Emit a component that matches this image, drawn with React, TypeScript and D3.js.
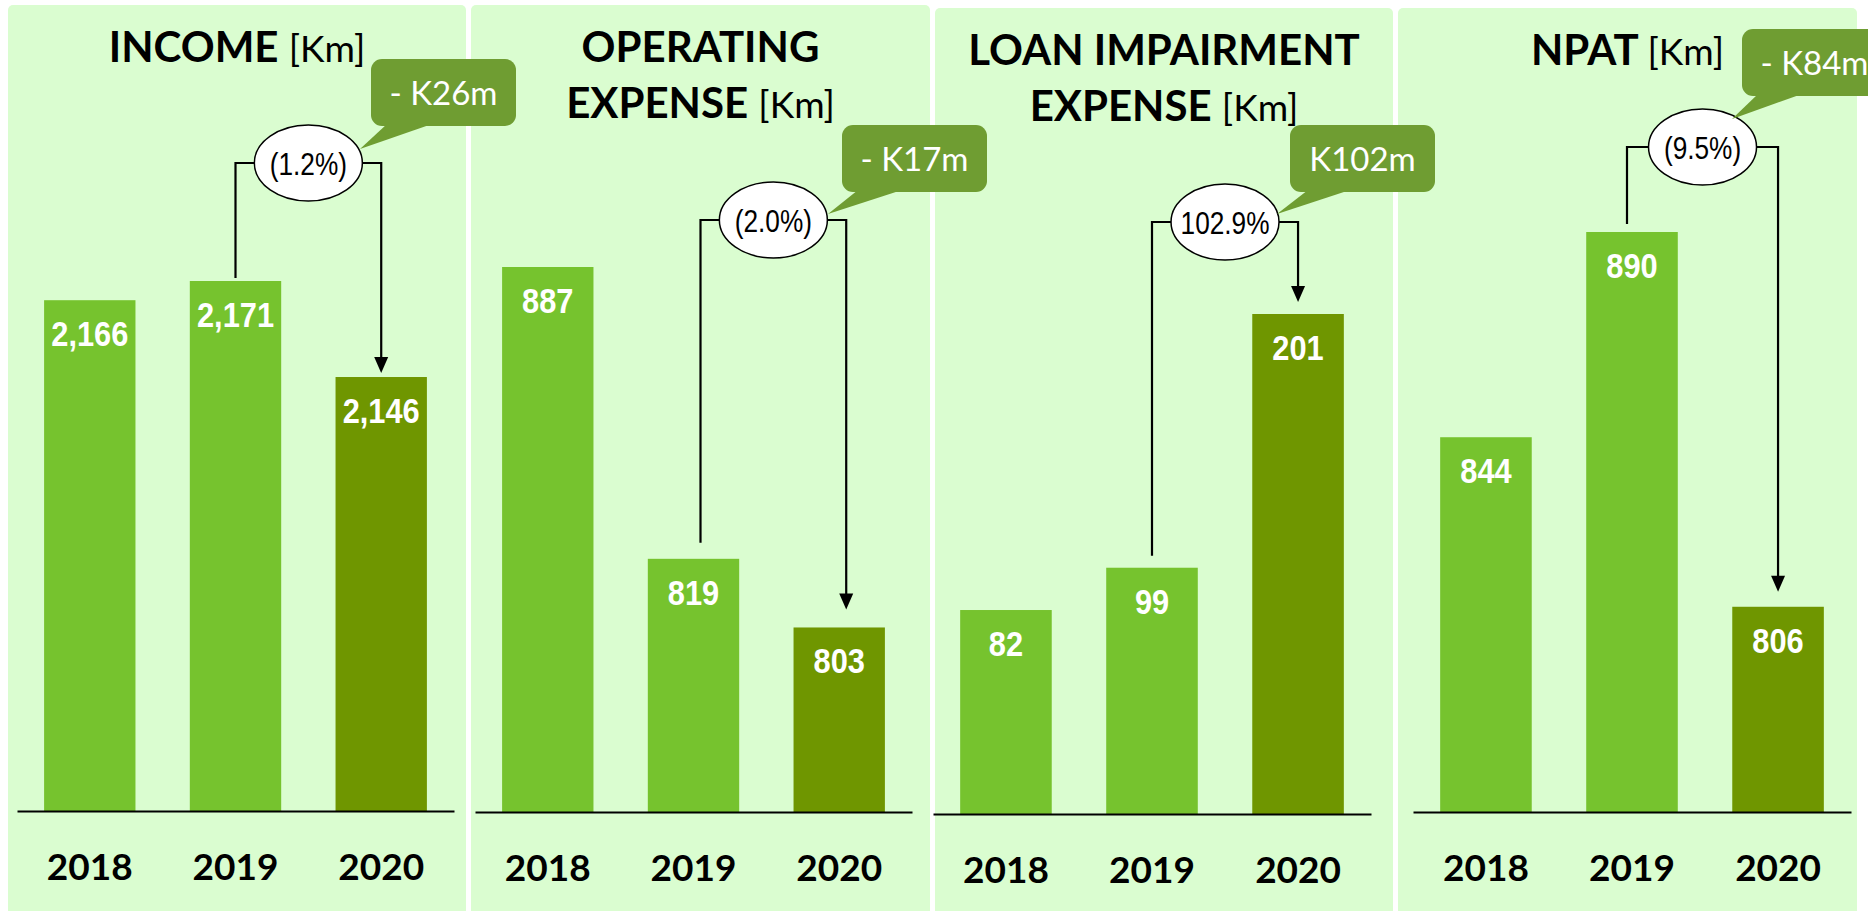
import { useEffect, useRef } from 'react';
import * as d3 from 'd3';

// ---------------- data ----------------
const years = ['2018', '2019', '2020'];
const incomeValues = [2166, 2171, 2146];
const opexValues = [887, 819, 803];
const loanImpairmentValues = [82, 99, 201];
const npatValues = [844, 890, 806];

const titleLines = [['INCOME'], ['OPERATING', 'EXPENSE'], ['LOAN IMPAIRMENT', 'EXPENSE'], ['NPAT']];
const unitLabel = '[Km]';
const changePct = ['(1.2%)', '(2.0%)', '102.9%', '(9.5%)'];
const changeAbs = ['- K26m', '- K17m', 'K102m', '- K84m'];
// value where each (truncated) y axis starts
const axisFloor = [2033, 760, 0, 760];

const seriesValues = [incomeValues, opexValues, loanImpairmentValues, npatValues];

// ---------------- look ----------------
const W = 1868;
const H = 911;
const BG = '#dafdd0';
const BAR = '#76c32e';
const BAR_LAST = '#6f9600';
const CALLOUT = '#6f9d32';
const NARROW = '"Liberation Sans Narrow", "Liberation Sans", Arial, sans-serif';
const SANS = 'Lato, "Open Sans", sans-serif';
// no narrow font installed, so squeeze the arial-like text
const VALUE_SQUEEZE = 0.88;
const PCT_SQUEEZE = 0.82;

// hand placed panel layout
const layout = [
  { x: 8, y: 5, w: 458, ax0: 17, ax1: 454, base: 811, top: 281, ellY: 163, box: [371, 59], tail: [387, 432, 360, 149], gap: [3, 4], bdx: [0, 0] },
  { x: 471, y: 5, w: 459, ax0: 475, ax1: 912, base: 812, top: 267, ellY: 220, box: [842, 125], tail: [858, 902, 828, 214], gap: [16, 18], bdx: [7, 7] },
  { x: 935, y: 8, w: 458, ax0: 933, ax1: 1371, base: 814, top: 314, ellY: 222, box: [1290, 125], tail: [1308, 1350, 1277, 214], gap: [12, 12], bdx: [0, 0] },
  { x: 1398, y: 8, w: 459, ax0: 1413, ax1: 1851, base: 812, top: 232, ellY: 147, box: [1742, 29], tail: [1758, 1802, 1732, 119], gap: [8, 15], bdx: [-5, 0] },
];

const App = () => {
  const svgRef = useRef<SVGSVGElement>(null);

  useEffect(() => {
    const svg = d3.select(svgRef.current);
    svg.selectAll('*').remove();

    const bgLayer = svg.append('g');
    const chartLayer = svg.append('g');
    const calloutLayer = svg.append('g');

    seriesValues.forEach((values, i) => {
      const L = layout[i];

      // panel background
      bgLayer.append('rect')
        .attr('x', L.x)
        .attr('y', L.y)
        .attr('width', L.w)
        .attr('height', H - L.y + 10)
        .attr('rx', 5)
        .attr('fill', BG);

      const x = d3.scaleBand<string>()
        .domain(years)
        .range([L.ax0, L.ax1])
        .paddingInner(0.373)
        .paddingOuter(0.186);

      const y = d3.scaleLinear()
        .domain([axisFloor[i], d3.max(values) as number])
        .range([L.base, L.top]);

      const g = chartLayer.append('g');

      // title
      const cx = L.x + L.w / 2;
      const title = g.append('text')
        .attr('text-anchor', 'middle')
        .style('font-family', SANS)
        .style('font-weight', 700)
        .style('font-size', '42px')
        .attr('fill', '#000');
      const lines = titleLines[i];
      lines.forEach((line, j) => {
        const last = j === lines.length - 1;
        const t = title.append('tspan')
          .attr('x', cx)
          .attr('y', L.y + 57 + j * 56)
          .text(last ? line + ' ' : line);
        if (last) {
          t.append('tspan')
            .style('font-weight', 400)
            .style('font-size', '37px')
            .text(unitLabel);
        }
      });

      // bars
      g.selectAll('rect.bar')
        .data(values)
        .join('rect')
        .attr('class', 'bar')
        .attr('x', (_, k) => x(years[k]) as number)
        .attr('y', d => y(d))
        .attr('width', x.bandwidth())
        .attr('height', d => L.base - y(d))
        .attr('fill', (_, k) => (k === years.length - 1 ? BAR_LAST : BAR));

      // value labels
      g.selectAll('text.val')
        .data(values)
        .join('text')
        .attr('class', 'val')
        .attr('transform', (d, k) =>
          `translate(${(x(years[k]) as number) + x.bandwidth() / 2},${y(d) + 46}) scale(${VALUE_SQUEEZE},1)`)
        .attr('text-anchor', 'middle')
        .attr('fill', '#fff')
        .style('font-family', NARROW)
        .style('font-weight', 700)
        .style('font-size', '35px')
        .text(d => d3.format(',')(d));

      // axis
      const axis = g.append('g')
        .attr('transform', `translate(0,${L.base})`)
        .call(d3.axisBottom(x).tickSize(0).tickSizeOuter(0));
      axis.select('.domain').attr('stroke', '#000').attr('stroke-width', 2);
      axis.selectAll('.tick text')
        .attr('y', 69)
        .attr('dy', null)
        .attr('fill', '#000')
        .style('font-family', SANS)
        .style('font-weight', 700)
        .style('font-size', '37px');

      // change bracket
      const x1 = (x(years[1]) as number) + x.bandwidth() / 2 + L.bdx[0];
      const x2 = (x(years[2]) as number) + x.bandwidth() / 2 + L.bdx[1];
      const ecx = (x1 + x2) / 2;
      const ecy = L.ellY;
      const lineTop = y(values[1]) - L.gap[0];
      const tip = y(values[2]) - L.gap[1];

      g.append('path')
        .attr('d', `M${x1},${lineTop}V${ecy}H${x2}V${tip - 14}`)
        .attr('fill', 'none')
        .attr('stroke', '#000')
        .attr('stroke-width', 2.2);

      g.append('path')
        .attr('d', `M${x2 - 7},${tip - 16}L${x2 + 7},${tip - 16}L${x2},${tip}Z`)
        .attr('fill', '#000');

      g.append('ellipse')
        .attr('cx', ecx)
        .attr('cy', ecy)
        .attr('rx', 54)
        .attr('ry', 38)
        .attr('fill', '#fff')
        .attr('stroke', '#000')
        .attr('stroke-width', 1.5);

      g.append('text')
        .attr('transform', `translate(${ecx},${ecy + 12}) scale(${PCT_SQUEEZE},1)`)
        .attr('text-anchor', 'middle')
        .attr('fill', '#000')
        .style('font-family', NARROW)
        .style('font-size', '32px')
        .text(changePct[i]);

      // callout
      const [bx, by] = L.box;
      const bw = 145;
      const bh = 67;
      const c = calloutLayer.append('g');
      c.append('path')
        .attr('d', `M${L.tail[0]},${by + bh - 2}L${L.tail[1]},${by + bh - 2}L${L.tail[2]},${L.tail[3]}Z`)
        .attr('fill', CALLOUT);
      c.append('rect')
        .attr('x', bx)
        .attr('y', by)
        .attr('width', bw)
        .attr('height', bh)
        .attr('rx', 11)
        .attr('fill', CALLOUT);
      c.append('text')
        .attr('x', bx + bw / 2)
        .attr('y', by + 46)
        .attr('text-anchor', 'middle')
        .attr('fill', '#fff')
        .style('font-family', SANS)
        .style('font-size', '33px')
        .text(changeAbs[i]);
    });
  }, []);

  return (
    <svg
      ref={svgRef}
      width={W}
      height={H}
      style={{ position: 'absolute', left: 0, top: 0, background: '#fff' }}
    />
  );
};

export default App;
